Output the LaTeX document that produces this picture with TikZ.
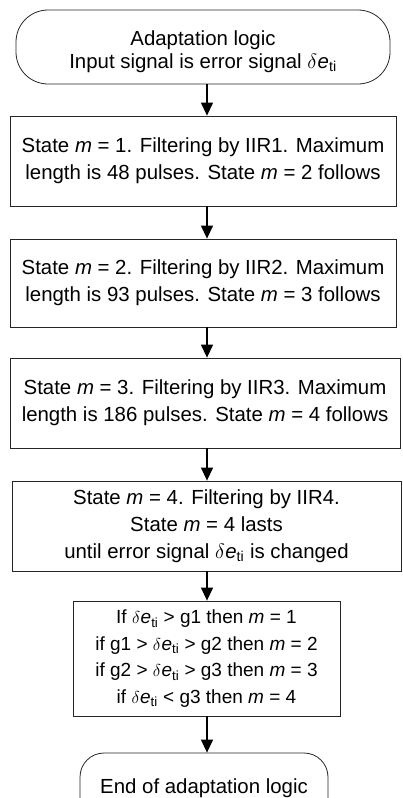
\documentclass[tikz,border=0pt]{standalone}
\usepackage{fontspec}
\setmainfont{Liberation Sans}
\usetikzlibrary{arrows.meta}
\newcommand{\dei}{$\delta$\kern0.5pt\textit{e}\textsubscript{ti}}
\newcommand{\mm}{\textit{m}}
\begin{document}
\begin{tikzpicture}[x=1pt,y=-1pt,
  boxbase/.style={draw=black!85, line width=0.8pt, align=center, inner sep=0pt,
    font=\fontsize{20.4}{27}\selectfont},
  proc/.style={boxbase, rectangle},
  term/.style={boxbase, rectangle},
  small/.style={font=\fontsize{19}{26.5}\selectfont},
  arr/.style={line width=1.3pt, -{Triangle[length=13pt,width=12pt]}}]
\useasboundingbox (0,0) rectangle (402,798);
\clip (0,0) rectangle (402,798);
% nodes
\node[term, rounded corners=32pt, minimum width=374pt, minimum height=74pt,
  font=\fontsize{20.4}{23.5}\selectfont] (t) at (203,47)
  {\rule{0pt}{24pt}Adaptation logic\\Input signal is error signal \dei};
\node[proc, minimum width=386pt, minimum height=90pt] (b1) at (203,161)
  {State \mm{} = 1. Filtering by IIR1. Maximum\\length is 48 pulses. State \mm{} = 2 follows};
\node[proc, minimum width=386pt, minimum height=88pt] (b2) at (203,283)
  {State \mm{} = 2. Filtering by IIR2. Maximum\\length is 93 pulses. State \mm{} = 3 follows};
\node[proc, minimum width=390pt, minimum height=90pt] (b3) at (205,403)
  {State \mm{} = 3. Filtering by IIR3. Maximum\\length is 186 pulses. State \mm{} = 4 follows};
\node[proc, minimum width=389pt, minimum height=90pt] (b4) at (206.5,526)
  {State \mm{} = 4. Filtering by IIR4.\\State \mm{} = 4 lasts\\until error signal \dei{} is changed};
\node[proc, small, minimum width=267pt, minimum height=115pt] (b5) at (206.5,658.5)
  {If \dei{} > g1 then \mm{} = 1\\if g1 > \dei{} > g2 then \mm{} = 2\\if g2 > \dei{} > g3 then \mm{} = 3\\if \dei{} < g3 then \mm{} = 4};
\node[term, rounded corners=24pt, minimum width=248pt, minimum height=70pt] (e) at (204,788)
  {End of adaptation logic};
% arrows
\coordinate (ax) at (207,0);
\draw[arr] (t.south -| ax) -- (b1.north -| ax);
\draw[arr] (b1.south -| ax) -- (b2.north -| ax);
\draw[arr] (b2.south -| ax) -- (b3.north -| ax);
\draw[arr] (b3.south -| ax) -- (b4.north -| ax);
\draw[arr] (b4.south -| ax) -- (b5.north -| ax);
\draw[arr] (b5.south -| ax) -- (e.north -| ax);
\end{tikzpicture}
\end{document}
